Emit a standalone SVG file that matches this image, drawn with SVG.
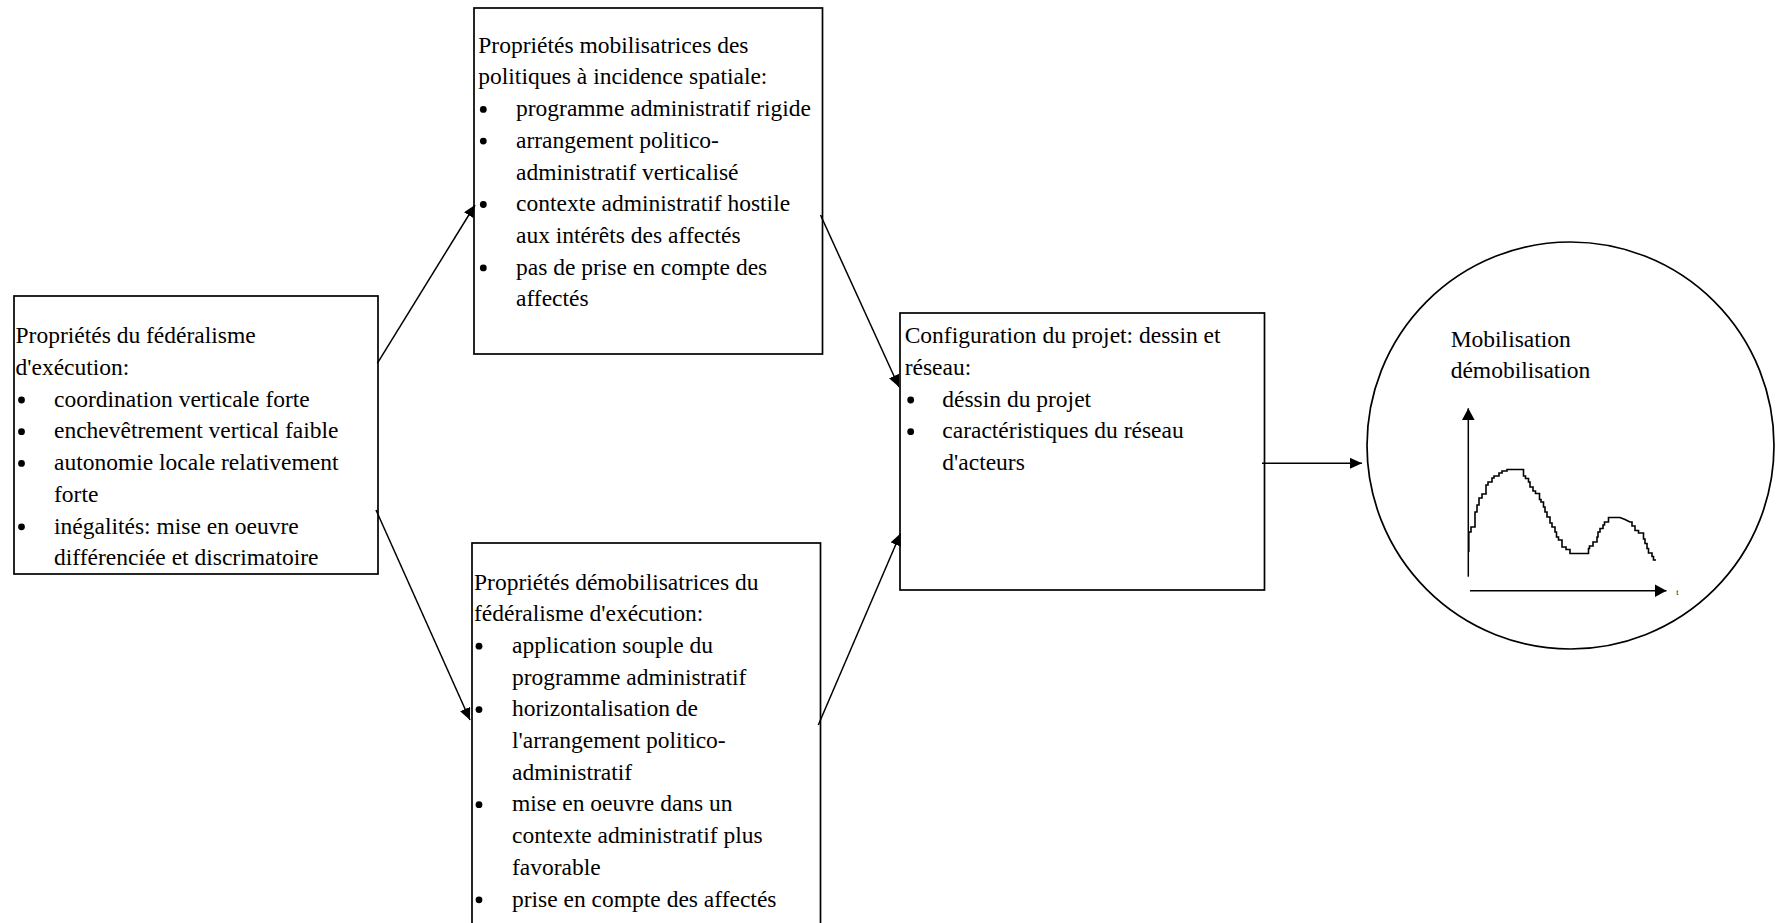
<svg xmlns="http://www.w3.org/2000/svg" width="1777" height="923" viewBox="0 0 1777 923">
<style>
  .box { fill: #ffffff; stroke: #000000; stroke-width: 1.7; }
  .t { font-family: "Liberation Serif", "Times New Roman", serif; font-size: 23.5px; fill: #000000; }
  .dot { fill: #000000; }
  .conn { fill: none; stroke: #000000; stroke-width: 1.5; }
  .curve { fill: none; stroke: #000000; stroke-width: 1.6; stroke-linejoin: miter; }
</style>
<defs>
  <marker id="arrow" markerUnits="userSpaceOnUse" markerWidth="14" markerHeight="12" refX="12" refY="5.5" orient="auto">
    <path d="M0,0 L12,5.5 L0,11 Z" fill="#000000"/>
  </marker>
  <marker id="arrowAxis" markerUnits="userSpaceOnUse" markerWidth="14" markerHeight="14" refX="12" refY="6.5" orient="auto">
    <path d="M0,0 L12,6.5 L0,13 Z" fill="#000000"/>
  </marker>
</defs>
<rect width="1777" height="923" fill="#ffffff"/>

<g id="node-federalisme">
  <rect class="box" x="14" y="296" width="364" height="278"/>
  <text class="t" x="15.5" y="343.3">Propriétés du fédéralisme</text>
  <text class="t" x="15.5" y="375">d'exécution:</text>
  <circle class="dot" cx="21.5" cy="400" r="3.4"/>
  <text class="t" x="54" y="406.7">coordination verticale forte</text>
  <circle class="dot" cx="21.5" cy="431.7" r="3.4"/>
  <text class="t" x="54" y="438.4">enchevêtrement vertical faible</text>
  <circle class="dot" cx="21.5" cy="463.4" r="3.4"/>
  <text class="t" x="54" y="470.1">autonomie locale relativement</text>
  <text class="t" x="54" y="501.8">forte</text>
  <circle class="dot" cx="21.5" cy="526.8" r="3.4"/>
  <text class="t" x="54" y="533.5">inégalités: mise en oeuvre</text>
  <text class="t" x="54" y="565.2">différenciée et discrimatoire</text>
</g>

<g id="node-mobilisatrices">
  <rect class="box" x="474" y="8" width="348.5" height="346"/>
  <text class="t" x="478.3" y="52.7">Propriétés mobilisatrices des</text>
  <text class="t" x="478.3" y="84.4">politiques à incidence spatiale:</text>
  <circle class="dot" cx="483.3" cy="109.4" r="3.4"/>
  <text class="t" x="516" y="116.1">programme administratif rigide</text>
  <circle class="dot" cx="483.3" cy="141.1" r="3.4"/>
  <text class="t" x="516" y="147.8">arrangement politico-</text>
  <text class="t" x="516" y="179.5">administratif verticalisé</text>
  <circle class="dot" cx="483.3" cy="204.5" r="3.4"/>
  <text class="t" x="516" y="211.2">contexte administratif hostile</text>
  <text class="t" x="516" y="242.9">aux intérêts des affectés</text>
  <circle class="dot" cx="483.3" cy="267.9" r="3.4"/>
  <text class="t" x="516" y="274.6">pas de prise en compte des</text>
  <text class="t" x="516" y="306.3">affectés</text>
</g>

<g id="node-demobilisatrices">
  <rect class="box" x="472" y="543" width="348.5" height="400"/>
  <text class="t" x="474" y="589.5">Propriétés démobilisatrices du</text>
  <text class="t" x="474" y="621.2">fédéralisme d'exécution:</text>
  <circle class="dot" cx="479" cy="646.2" r="3.4"/>
  <text class="t" x="512" y="652.9">application souple du</text>
  <text class="t" x="512" y="684.6">programme administratif</text>
  <circle class="dot" cx="479" cy="709.6" r="3.4"/>
  <text class="t" x="512" y="716.3">horizontalisation de</text>
  <text class="t" x="512" y="748">l'arrangement politico-</text>
  <text class="t" x="512" y="779.7">administratif</text>
  <circle class="dot" cx="479" cy="804.7" r="3.4"/>
  <text class="t" x="512" y="811.4">mise en oeuvre dans un</text>
  <text class="t" x="512" y="843.1">contexte administratif plus</text>
  <text class="t" x="512" y="874.8">favorable</text>
  <circle class="dot" cx="479" cy="899.8" r="3.4"/>
  <text class="t" x="512" y="906.5">prise en compte des affectés</text>
</g>

<g id="node-configuration">
  <rect class="box" x="900" y="313" width="364.5" height="277"/>
  <text class="t" x="904.7" y="343.3">Configuration du projet: dessin et</text>
  <text class="t" x="904.7" y="375">réseau:</text>
  <circle class="dot" cx="910.7" cy="400" r="3.4"/>
  <text class="t" x="942.3" y="406.7">déssin du projet</text>
  <circle class="dot" cx="910.7" cy="431.7" r="3.4"/>
  <text class="t" x="942.3" y="438.4">caractéristiques du réseau</text>
  <text class="t" x="942.3" y="470.1">d'acteurs</text>
</g>

<g id="node-mobilisation">
  <circle cx="1570.5" cy="445.5" r="203.5" fill="#ffffff" stroke="#000000" stroke-width="1.7"/>
  <text class="t" x="1450.7" y="347.3">Mobilisation</text>
  <text class="t" x="1450.7" y="378.3">démobilisation</text>
  <line class="conn" x1="1468.3" y1="576.7" x2="1468.3" y2="408.3" marker-end="url(#arrowAxis)"/>
  <line class="conn" x1="1470" y1="590.8" x2="1666.5" y2="590.8" marker-end="url(#arrowAxis)"/>
  <text x="1677.3" y="594.5" font-family="Liberation Serif, serif" font-size="8" text-anchor="middle">t</text>
  <path class="curve" d="M1468.8,552 V532 H1471 V527 H1475 V512 H1477 V505 H1479 V498 H1482 V494 H1486 V485 H1488 V482 H1492 V478 H1494 V476 H1499 V473 H1502 V471 H1507 V469.5 H1523.5 V476 H1525.5 V478.5 H1528.5 V482 H1530 V487 H1533 V491 H1535.5 V493.5 H1539.5 V499.5 H1541 V502 H1543.5 V507 H1545 V512 H1547 V517 H1550 V523 H1552 V527 H1555 V532 H1556.5 V537 H1558.5 V540 H1562 V547 H1566 V549.5 H1570 V553.5 H1588.5 V548.5 H1589.5 V546 H1593 V542 H1597 V537 H1598 V532 H1600 V528.5 H1603 V525 H1604.5 V522 H1608.5 V517.5 H1620 L1625,519.5 L1630,522 H1632 V526 H1635 V530.5 H1638.5 V533 H1643.5 V539 H1645 V543.5 H1647 V548.5 H1648.5 V553 H1652 V556.5 H1653.5 V560 H1656"/>
</g>

<g id="connectors">
  <line class="conn" x1="377.3" y1="363.3" x2="475" y2="205" marker-end="url(#arrow)"/>
  <line class="conn" x1="376" y1="510" x2="470" y2="720" marker-end="url(#arrow)"/>
  <line class="conn" x1="820.5" y1="215" x2="899" y2="387" marker-end="url(#arrow)"/>
  <line class="conn" x1="818.3" y1="725" x2="900.5" y2="533.5" marker-end="url(#arrow)"/>
  <line class="conn" x1="1262" y1="463.3" x2="1362" y2="463.3" marker-end="url(#arrow)"/>
</g>
</svg>
